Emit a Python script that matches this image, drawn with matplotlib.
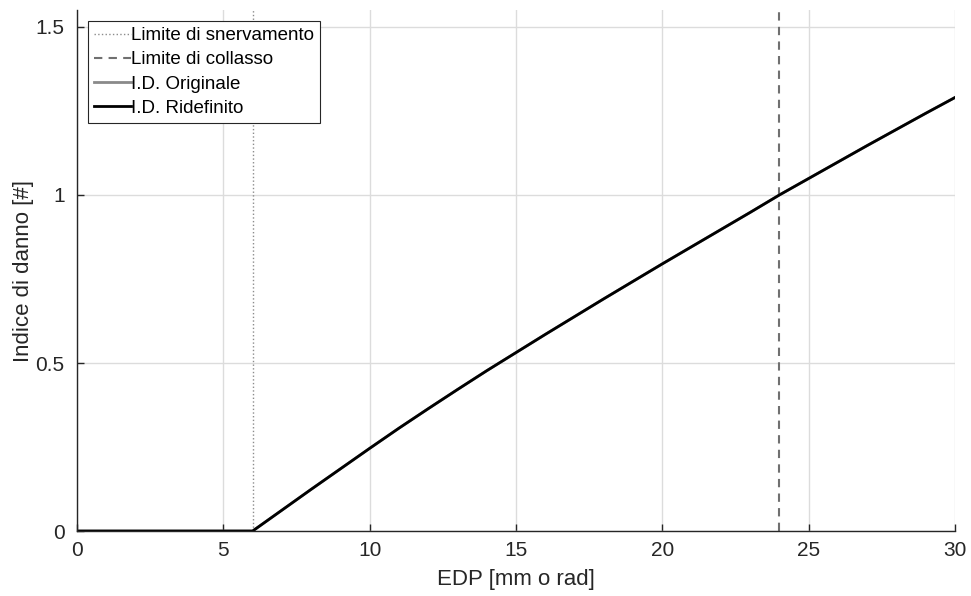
import numpy as np
import matplotlib.pyplot as plt

plt.rcParams['font.family'] = ['Liberation Sans', 'DejaVu Sans']

# EDP values and damage index curves
edp = [0, 6, 7, 8, 9, 10, 11, 12, 13, 14, 15, 16, 17, 18,
       19, 20, 21, 22, 23, 24, 25, 26, 27, 28, 29, 30]
id_originale = [0, 0, 0.062, 0.124, 0.185, 0.246, 0.306, 0.364, 0.421, 0.477, 0.531,
                0.585, 0.638, 0.691, 0.743, 0.795, 0.846, 0.897, 0.948, 1.0, 1.049,
                1.098, 1.147, 1.195, 1.243, 1.29]
id_ridefinito = [0, 0, 0.062, 0.124, 0.185, 0.246, 0.306, 0.364, 0.421, 0.477, 0.531,
                 0.585, 0.638, 0.691, 0.743, 0.795, 0.846, 0.897, 0.948, 1.0, 1.049,
                 1.098, 1.147, 1.195, 1.243, 1.29]

lim_snervamento = 6
lim_collasso = 24

x_ticks = [0, 5, 10, 15, 20, 25, 30]
y_ticks = [0, 0.5, 1, 1.5]
y_labels = ['0', '0.5', '1', '1.5']

fig = plt.figure(figsize=(9.71, 5.96), dpi=100)
ax = fig.add_axes([0.0793, 0.109, 0.9042, 0.874])

ax.axvline(lim_snervamento, color='#8c8c8c', lw=1.0, ls=':', label='Limite di snervamento')
ax.axvline(lim_collasso, color='#707070', lw=1.5, ls=(0, (4, 3)), label='Limite di collasso')
ax.plot(edp, id_originale, color='#8a8a8a', lw=2.0, label='I.D. Originale')
ax.plot(edp, id_ridefinito, color='black', lw=2.0, label='I.D. Ridefinito')

ax.set_xlim(0, 30)
ax.set_ylim(0, 1.55)
ax.set_xticks(x_ticks)
ax.set_yticks(y_ticks)
ax.set_yticklabels(y_labels)
ax.grid(True, color='#dcdcdc', lw=1.0)
ax.set_axisbelow(True)

for s in ['top', 'right']:
    ax.spines[s].set_visible(False)
for s in ['left', 'bottom']:
    ax.spines[s].set_color('#262626')
    ax.spines[s].set_linewidth(1.0)

ax.tick_params(direction='in', length=5, width=1, colors='#262626', labelsize=15)
ax.tick_params(axis='x', pad=7.5)
ax.tick_params(axis='y', pad=9)

ax.set_xlabel('EDP [mm o rad]', fontsize=16, color='#262626', labelpad=6)
ax.set_ylabel('Indice di danno [#]', fontsize=16, color='#262626', labelpad=1)

leg = ax.legend(loc='upper left', fontsize=13.5, handlelength=2.0, handletextpad=0.0,
                borderaxespad=0.6, borderpad=0.3, labelspacing=0.38, fancybox=False,
                framealpha=1, edgecolor='#262626')
leg.get_frame().set_linewidth(0.8)

fig.savefig('out.png', dpi=100)
